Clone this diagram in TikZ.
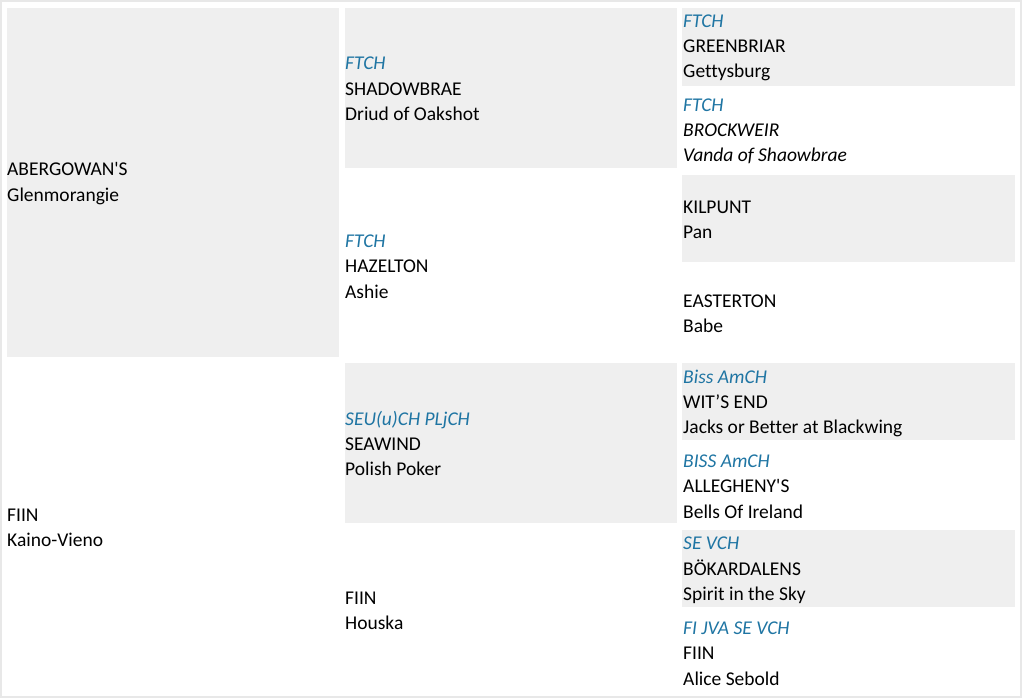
\documentclass[tikz,border=0pt]{standalone}
\usepackage{fontspec}
\setmainfont{Carlito}[Ligatures=NoCommon]
\definecolor{cellgray}{RGB}{239,239,239}
\definecolor{framegray}{RGB}{232,232,232}
\definecolor{titleblue}{RGB}{31,117,163}
\newcommand{\ttl}[1]{{\color{titleblue}\itshape #1}}

\begin{document}
\begin{tikzpicture}[x=1pt,y=-1pt,
  cell/.style={fill=cellgray,draw=none},
  dog/.style={anchor=west,align=left,inner sep=0pt,
    font=\fontsize{19.5}{25.3}\selectfont}]
  \useasboundingbox (0,0) rectangle (1024,700);
  \draw[framegray,line width=2pt] (1,1) rectangle (1021,697);

  \fill[cell] (7,8) rectangle (339,357);
  \fill[cell] (345,8) rectangle (677,168);
  \fill[cell] (345,363) rectangle (677,523);
  \fill[cell] (682,8) rectangle (1015,86);
  \fill[cell] (682,175) rectangle (1015,262);
  \fill[cell] (682,363) rectangle (1015,440);
  \fill[cell] (682,530) rectangle (1015,607);

  \node[dog] (sire) at (7,183.5) {ABERGOWAN\textquotesingle S\\Glenmorangie};
  \node[dog] (dam) at (7,527.5) {FIIN\\Kaino-Vieno};

  \node[dog] (ss) at (345,89) {\ttl{FTCH}\\SHADOWBRAE\\Driud of Oakshot};
  \node[dog] (sd) at (345,266.5) {\ttl{FTCH}\\HAZELTON\\Ashie};
  \node[dog] (ds) at (345,443.5) {\ttl{SEU(u)CH PLjCH}\\SEAWIND\\Polish Poker};
  \node[dog] (dd) at (345,610.5) {FIIN\\Houska};

  \node[dog] (sss) at (683,48) {\ttl{FTCH}\\GREENBRIAR\\Gettysburg};
  \node[dog] (ssd) at (683,131.5) {\ttl{FTCH}\\\textit{BROCKWEIR}\\\textit{Vanda of Shaowbrae}};
  \node[dog] (sds) at (683,220) {KILPUNT\\Pan};
  \node[dog] (sdd) at (683,314) {EASTERTON\\Babe};
  \node[dog] (dss) at (683,403.5) {\ttl{Biss AmCH}\\WIT’S END\\Jacks or Better at Blackwing};
  \node[dog] (dsd) at (683,486.5) {\ttl{BISS AmCH}\\ALLEGHENY\textquotesingle S\\Bells Of Ireland};
  \node[dog] (dds) at (683,570.5) {\ttl{SE VCH}\\BÖKARDALENS\\Spirit in the Sky};
  \node[dog] (ddd) at (683,653.5) {\ttl{FI JVA SE VCH}\\FIIN\\Alice Sebold};
\end{tikzpicture}
\end{document}
